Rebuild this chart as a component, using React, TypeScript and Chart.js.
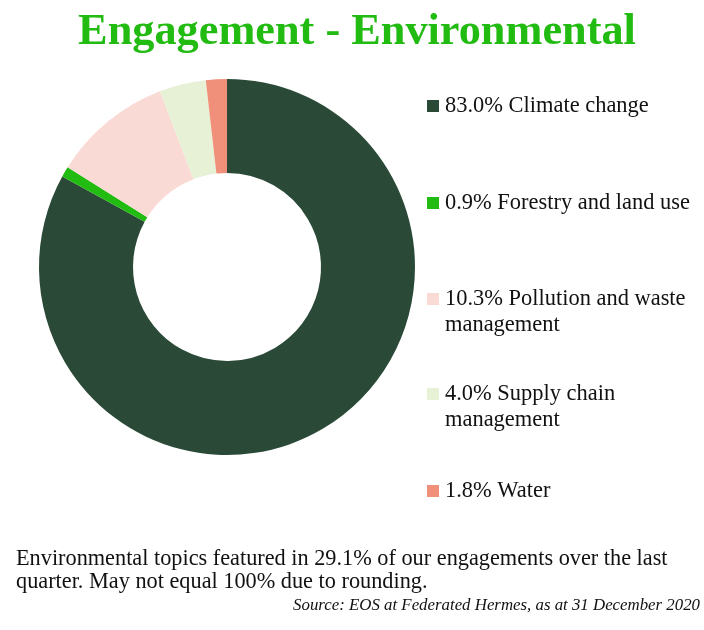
import React, { useEffect, useRef } from "react";
import { Chart, registerables } from "chart.js";

Chart.register(...registerables);

const labels = ["Climate change", "Forestry and land use", "Pollution and waste management", "Supply chain management", "Water"];
const values = [83.0, 0.9, 10.3, 4.0, 1.8];
const colors = ["#2a4a37", "#22bb11", "#fadad4", "#e6f1d6", "#f0907a"];
const legendLines = [
  ["83.0% Climate change"],
  ["0.9% Forestry and land use"],
  ["10.3% Pollution and waste", "management"],
  ["4.0% Supply chain", "management"],
  ["1.8% Water"],
];
const legendCenters = [106, 203, 299, 394, 491];

const titleText = "Engagement - Environmental";
const footerLines = [
  "Environmental topics featured in 29.1% of our engagements over the last",
  "quarter. May not equal 100% due to rounding.",
];
const sourceText = "Source: EOS at Federated Hermes, as at 31 December 2020";

const FAM = "\"Liberation Serif\", \"Times New Roman\", serif";

function fitSize(ctx: CanvasRenderingContext2D, style: string, text: string, target: number, max: number) {
  ctx.font = `${style} 20px ${FAM}`;
  const w = ctx.measureText(text).width;
  return Math.min(max, Math.max(10, (20 * target) / w));
}

const textPlugin = {
  id: "pageText",
  afterDraw(chart: any) {
    const ctx: CanvasRenderingContext2D = chart.ctx;
    ctx.save();
    // title
    const ts = fitSize(ctx, "bold", titleText, 558, 46);
    ctx.font = `bold ${ts}px ${FAM}`;
    ctx.fillStyle = "#22bb11";
    ctx.textAlign = "center";
    ctx.textBaseline = "middle";
    ctx.fillText(titleText, 357, 33);

    // legend
    const ls = fitSize(ctx, "", legendLines[1][0], 245, 23);
    ctx.font = `${ls}px ${FAM}`;
    ctx.textAlign = "left";
    legendLines.forEach((lines, i) => {
      const cy = legendCenters[i];
      ctx.fillStyle = colors[i];
      ctx.fillRect(427, cy - 6, 12, 12);
      ctx.fillStyle = "#111";
      lines.forEach((l, j) => ctx.fillText(l, 445, cy + j * 26));
    });

    // footer
    const fs = fitSize(ctx, "", footerLines[0], 652, 23);
    ctx.font = `${fs}px ${FAM}`;
    ctx.fillStyle = "#111";
    footerLines.forEach((l, j) => ctx.fillText(l, 16, 559 + j * 23));

    const ss = fitSize(ctx, "italic", sourceText, 407, 17);
    ctx.font = `italic ${ss}px ${FAM}`;
    ctx.textAlign = "right";
    ctx.fillText(sourceText, 700, 606);
    ctx.restore();
  },
};

export default function App() {
  const ref = useRef<HTMLCanvasElement>(null);
  useEffect(() => {
    if (!ref.current) return;
    const chart = new Chart(ref.current, {
      type: "doughnut",
      data: {
        labels,
        datasets: [
          {
            data: values,
            backgroundColor: colors,
            borderWidth: 0,
            hoverOffset: 0,
            offset: 0,
          },
        ],
      },
      options: {
        responsive: false,
        animation: false,
        devicePixelRatio: 1,
        cutout: "50%",
        layout: { padding: { left: 39, top: 79, right: 289, bottom: 175 } },
        plugins: { legend: { display: false }, tooltip: { enabled: false }, title: { display: false } },
      },
      plugins: [textPlugin],
    });
    return () => chart.destroy();
  }, []);

  return (
    <div style={{ position: "absolute", left: 0, top: 0, width: 704, height: 630, background: "#fff" }}>
      <canvas ref={ref} width={704} height={630} style={{ display: "block", width: 704, height: 630 }} />
    </div>
  );
}
